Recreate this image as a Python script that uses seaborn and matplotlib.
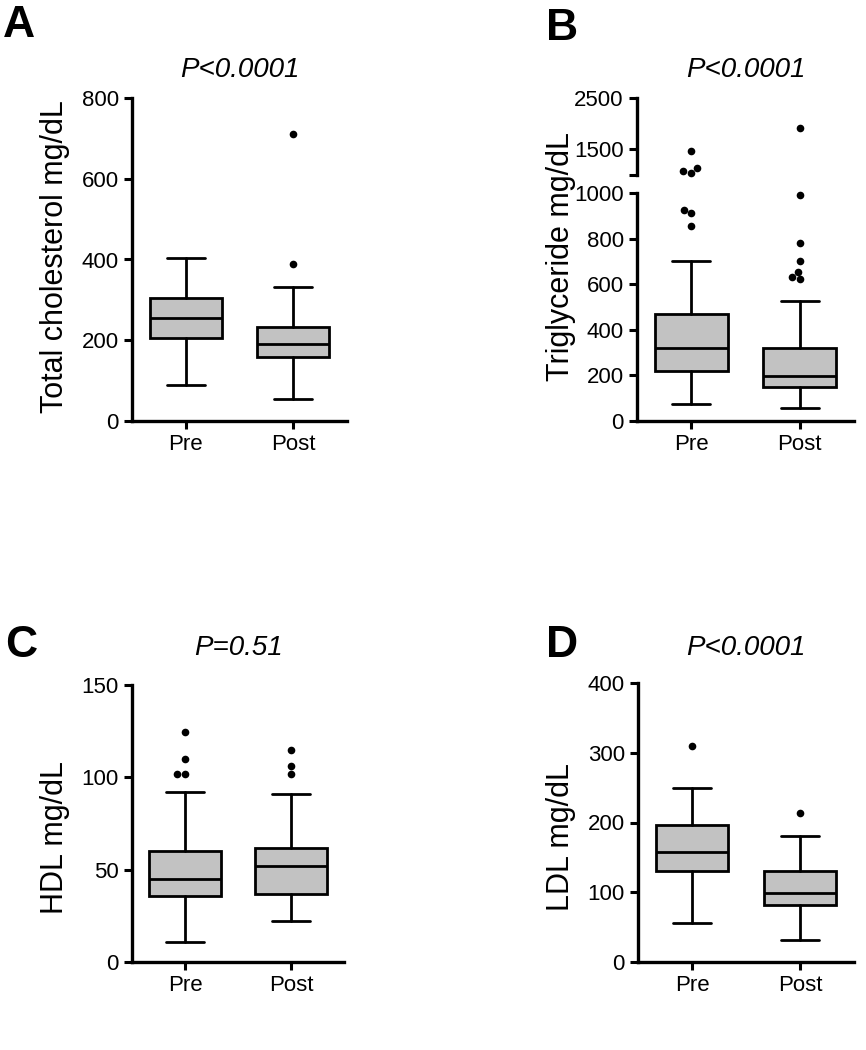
import matplotlib
matplotlib.use("Agg")
import matplotlib.pyplot as plt
import pandas as pd
import seaborn as sns

# ---------------- data ----------------
groups = ["Pre", "Post"]

# five-number summaries: [whisker low, Q1, median, Q3, whisker high]
tc_pre = [88, 206, 254, 304, 404]
tc_post = [55, 159, 190, 232, 332]
tc_pre_out = []
tc_post_out = [390, 710]

tg_pre = [73, 220, 318, 468, 702]
tg_post = [54, 150, 198, 318, 526]
tg_pre_out = [858, 912, 927, 1041, 1069, 1139, 1473]
tg_post_out = [623, 634, 656, 704, 780, 993, 1912]

hdl_pre = [10.9, 35.8, 44.7, 60.3, 91.9]
hdl_post = [22.4, 36.7, 52.0, 61.9, 90.8]
hdl_pre_out = [101.9, 101.9, 109.8, 124.5]
hdl_post_out = [101.6, 106.2, 114.9]

ldl_pre = [56, 130, 158, 196, 250]
ldl_post = [31, 82, 99, 131, 181]
ldl_pre_out = [310]
ldl_post_out = [214]

titles = ["P<0.0001", "P<0.0001", "P=0.51", "P<0.0001"]
ylabels = ["Total cholesterol mg/dL", "Triglyceride mg/dL", "HDL mg/dL", "LDL mg/dL"]
letters = ["A", "B", "C", "D"]

a_ticks = [0, 200, 400, 600, 800]
b_low_ticks = [0, 200, 400, 600, 800, 1000]
b_up_ticks = [1000, 1500, 2500]
b_up_labels = ["", "1500", "2500"]
c_ticks = [0, 50, 100, 150]
d_ticks = [0, 100, 200, 300, 400]

# ---------------- style ----------------
sns.set_style("ticks")
plt.rcParams["font.family"] = ["Liberation Sans", "DejaVu Sans"]
plt.rcParams["axes.linewidth"] = 2.4
plt.rcParams["xtick.major.width"] = 2.2
plt.rcParams["ytick.major.width"] = 2.2
plt.rcParams["xtick.major.size"] = 6
plt.rcParams["ytick.major.size"] = 6
plt.rcParams["xtick.labelsize"] = 16
plt.rcParams["ytick.labelsize"] = 16
plt.rcParams["xtick.color"] = "black"
plt.rcParams["ytick.color"] = "black"
plt.rcParams["xtick.labelcolor"] = "black"
plt.rcParams["ytick.labelcolor"] = "black"
plt.rcParams["axes.edgecolor"] = "black"
plt.rcParams["axes.labelcolor"] = "black"
plt.rcParams["axes.titlecolor"] = "black"
plt.rcParams["text.color"] = "black"

BOX_FILL = "#c2c2c2"
LW = 2.0

fig = plt.figure(figsize=(8.66, 10.5), dpi=100)
W, H = 866, 1050


def add_ax(left, top, right, bottom):
    return fig.add_axes([left / W, (H - bottom) / H, (right - left) / W, (bottom - top) / H])


def stats(s):
    return dict(whislo=s[0], q1=s[1], med=s[2], q3=s[3], whishi=s[4], fliers=[])


def draw_boxes(ax, pre, post):
    ax.bxp([stats(pre), stats(post)], positions=[0, 1], widths=0.67, capwidths=0.35,
           patch_artist=True, showfliers=False,
           boxprops=dict(facecolor=BOX_FILL, edgecolor="black", linewidth=LW),
           medianprops=dict(color="black", linewidth=LW),
           whiskerprops=dict(color="black", linewidth=LW),
           capprops=dict(color="black", linewidth=LW))


def draw_outliers(ax, pre_out, post_out):
    df = pd.DataFrame({"group": ["Pre"] * len(pre_out) + ["Post"] * len(post_out),
                       "value": list(pre_out) + list(post_out)})
    if len(df):
        sns.swarmplot(data=df, x="group", y="value", order=groups, color="black",
                      size=5.5, ax=ax, zorder=5, clip_on=False)


def finish(ax, ticks, lim):
    ax.set_xlim(-0.5, 1.5)
    ax.set_xticks([0, 1])
    ax.set_xticklabels(groups)
    ax.set_xlabel("")
    ax.set_ylim(*lim)
    ax.set_yticks(ticks)
    sns.despine(ax=ax)


# ---------------- A ----------------
axA = add_ax(132, 98, 347, 421)
draw_boxes(axA, tc_pre, tc_post)
draw_outliers(axA, tc_pre_out, tc_post_out)
finish(axA, a_ticks, (0, 800))
axA.set_ylabel(ylabels[0], fontsize=22)
axA.yaxis.set_label_coords(-0.288, 0.51)
axA.set_title(titles[0], fontsize=20, fontstyle="italic", pad=15)

# ---------------- B (broken axis) ----------------
axBu = add_ax(637, 98.3, 854, 174.8)
axBl = add_ax(637, 193.3, 854, 420.7)
draw_boxes(axBl, tg_pre, tg_post)
draw_outliers(axBl, [v for v in tg_pre_out if v <= 1000], [v for v in tg_post_out if v <= 1000])
finish(axBl, b_low_ticks, (0, 1000))
axBl.set_ylabel(ylabels[1], fontsize=22)
axBl.yaxis.set_label_coords(-0.28, 0.72)

draw_outliers(axBu, [v for v in tg_pre_out if v > 1000], [v for v in tg_post_out if v > 1000])
axBu.set_xlim(-0.5, 1.5)
axBu.set_ylim(1000, 2500)
axBu.set_yticks(b_up_ticks)
axBu.set_yticklabels(b_up_labels)
axBu.set_xticks([])
axBu.set_xlabel("")
axBu.set_ylabel("")
sns.despine(ax=axBu, bottom=True)
axBu.set_title(titles[1], fontsize=20, fontstyle="italic", pad=15.5)

# ---------------- C ----------------
axC = add_ax(132, 685, 344, 962)
draw_boxes(axC, hdl_pre, hdl_post)
draw_outliers(axC, hdl_pre_out, hdl_post_out)
finish(axC, c_ticks, (0, 150))
axC.set_ylabel(ylabels[2], fontsize=22)
axC.yaxis.set_label_coords(-0.292, 0.451)
axC.set_title(titles[2], fontsize=20, fontstyle="italic", pad=21.5)

# ---------------- D ----------------
axD = add_ax(638, 683, 854, 962)
draw_boxes(axD, ldl_pre, ldl_post)
draw_outliers(axD, ldl_pre_out, ldl_post_out)
finish(axD, d_ticks, (0, 400))
axD.set_ylabel(ylabels[3], fontsize=22)
axD.yaxis.set_label_coords(-0.286, 0.448)
axD.set_title(titles[3], fontsize=20, fontstyle="italic", pad=20)

# ---------------- panel letters ----------------
for letter, (x, y) in zip(letters, [(3, 5), (546, 8), (5, 625), (546, 625)]):
    fig.text(x / W, 1 - y / H, letter, fontsize=32, fontweight="bold", ha="left", va="top",
             color="black")

fig.savefig("out.png", dpi=100)
